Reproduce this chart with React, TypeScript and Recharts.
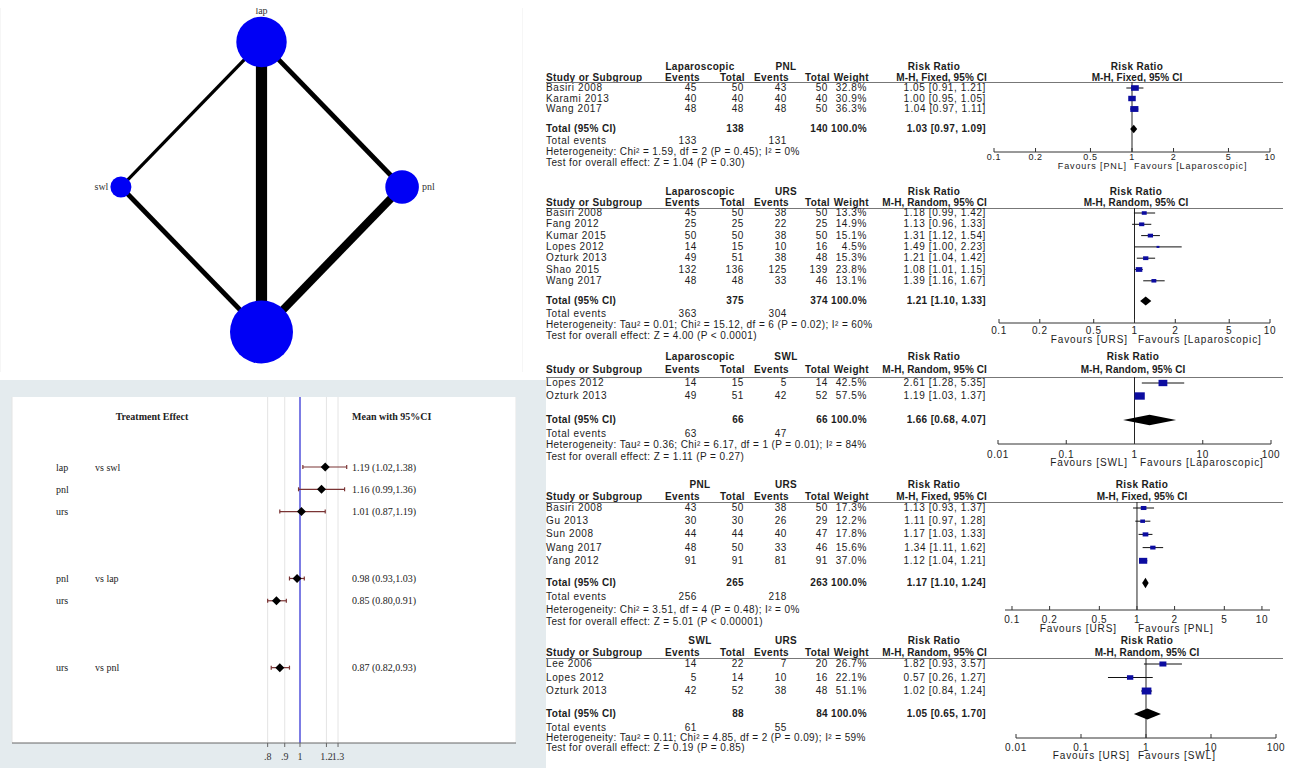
import React from "react";
import { ScatterChart, Scatter, XAxis, YAxis, CartesianGrid, ReferenceLine, ErrorBar } from "recharts";

const SANS = "'Liberation Sans', Arial, sans-serif";
const SERIF = "'Liberation Serif', 'Times New Roman', serif";

// network of comparisons (studies per direct comparison)
const treatments = ["lap", "pnl", "urs", "swl"];
const edgeFrom = ["lap", "lap", "lap", "swl", "pnl"];
const edgeTo = ["swl", "pnl", "urs", "urs", "urs"];
const edgeStudies = [2, 3, 7, 3, 5];

// network meta-analysis estimates
const nmaTreat = ["lap", "pnl", "urs", "pnl", "urs", "urs"];
const nmaRef = ["swl", "swl", "swl", "lap", "lap", "pnl"];
const nmaMean = [1.19, 1.16, 1.01, 0.98, 0.85, 0.87];
const nmaLow = [1.02, 0.99, 0.87, 0.93, 0.8, 0.82];
const nmaHigh = [1.38, 1.36, 1.19, 1.03, 0.91, 0.93];
const nmaTicks = [0.8, 0.9, 1, 1.2, 1.3];

// pairwise meta-analyses
const lapVsPnl = [
  { study: "Basiri 2008", e1: 45, n1: 50, e2: 43, n2: 50, w: 32.8, rr: 1.05, lo: 0.91, hi: 1.21 },
  { study: "Karami 2013", e1: 40, n1: 40, e2: 40, n2: 40, w: 30.9, rr: 1.0, lo: 0.95, hi: 1.05 },
  { study: "Wang 2017", e1: 48, n1: 48, e2: 48, n2: 50, w: 36.3, rr: 1.04, lo: 0.97, hi: 1.11 },
];
const lapVsUrs = [
  { study: "Basiri 2008", e1: 45, n1: 50, e2: 38, n2: 50, w: 13.3, rr: 1.18, lo: 0.99, hi: 1.42 },
  { study: "Fang 2012", e1: 25, n1: 25, e2: 22, n2: 25, w: 14.9, rr: 1.13, lo: 0.96, hi: 1.33 },
  { study: "Kumar 2015", e1: 50, n1: 50, e2: 38, n2: 50, w: 15.1, rr: 1.31, lo: 1.12, hi: 1.54 },
  { study: "Lopes 2012", e1: 14, n1: 15, e2: 10, n2: 16, w: 4.5, rr: 1.49, lo: 1.0, hi: 2.23 },
  { study: "Ozturk 2013", e1: 49, n1: 51, e2: 38, n2: 48, w: 15.3, rr: 1.21, lo: 1.04, hi: 1.42 },
  { study: "Shao 2015", e1: 132, n1: 136, e2: 125, n2: 139, w: 23.8, rr: 1.08, lo: 1.01, hi: 1.15 },
  { study: "Wang 2017", e1: 48, n1: 48, e2: 33, n2: 46, w: 13.1, rr: 1.39, lo: 1.16, hi: 1.67 },
];
const lapVsSwl = [
  { study: "Lopes 2012", e1: 14, n1: 15, e2: 5, n2: 14, w: 42.5, rr: 2.61, lo: 1.28, hi: 5.35 },
  { study: "Ozturk 2013", e1: 49, n1: 51, e2: 42, n2: 52, w: 57.5, rr: 1.19, lo: 1.03, hi: 1.37 },
];
const pnlVsUrs = [
  { study: "Basiri 2008", e1: 43, n1: 50, e2: 38, n2: 50, w: 17.3, rr: 1.13, lo: 0.93, hi: 1.37 },
  { study: "Gu 2013", e1: 30, n1: 30, e2: 26, n2: 29, w: 12.2, rr: 1.11, lo: 0.97, hi: 1.28 },
  { study: "Sun 2008", e1: 44, n1: 44, e2: 40, n2: 47, w: 17.8, rr: 1.17, lo: 1.03, hi: 1.33 },
  { study: "Wang 2017", e1: 48, n1: 50, e2: 33, n2: 46, w: 15.6, rr: 1.34, lo: 1.11, hi: 1.62 },
  { study: "Yang 2012", e1: 91, n1: 91, e2: 81, n2: 91, w: 37.0, rr: 1.12, lo: 1.04, hi: 1.21 },
];
const swlVsUrs = [
  { study: "Lee 2006", e1: 14, n1: 22, e2: 7, n2: 20, w: 26.7, rr: 1.82, lo: 0.93, hi: 3.57 },
  { study: "Lopes 2012", e1: 5, n1: 14, e2: 10, n2: 16, w: 22.1, rr: 0.57, lo: 0.26, hi: 1.27 },
  { study: "Ozturk 2013", e1: 42, n1: 52, e2: 38, n2: 48, w: 51.1, rr: 1.02, lo: 0.84, hi: 1.24 },
];
const pairStudies = [lapVsPnl, lapVsUrs, lapVsSwl, pnlVsUrs, swlVsUrs];
const pairTotals = [
  { n1: 138, n2: 140, e1: 133, e2: 131, rr: 1.03, lo: 0.97, hi: 1.09 },
  { n1: 375, n2: 374, e1: 363, e2: 304, rr: 1.21, lo: 1.1, hi: 1.33 },
  { n1: 66, n2: 66, e1: 63, e2: 47, rr: 1.66, lo: 0.68, hi: 4.07 },
  { n1: 265, n2: 263, e1: 256, e2: 218, rr: 1.17, lo: 1.1, hi: 1.24 },
  { n1: 88, n2: 84, e1: 61, e2: 55, rr: 1.05, lo: 0.65, hi: 1.7 },
];
const groupA = ["Laparoscopic", "Laparoscopic", "Laparoscopic", "PNL", "SWL"];
const groupB = ["PNL", "URS", "SWL", "URS", "URS"];
const methods = ["M-H, Fixed, 95% CI", "M-H, Random, 95% CI", "M-H, Random, 95% CI", "M-H, Fixed, 95% CI", "M-H, Random, 95% CI"];
const hetTexts = [
  "Heterogeneity: Chi² = 1.59, df = 2 (P = 0.45); I² = 0%",
  "Heterogeneity: Tau² = 0.01; Chi² = 15.12, df = 6 (P = 0.02); I² = 60%",
  "Heterogeneity: Tau² = 0.36; Chi² = 6.17, df = 1 (P = 0.01); I² = 84%",
  "Heterogeneity: Chi² = 3.51, df = 4 (P = 0.48); I² = 0%",
  "Heterogeneity: Tau² = 0.11; Chi² = 4.85, df = 2 (P = 0.09); I² = 59%",
];
const testTexts = [
  "Test for overall effect: Z = 1.04 (P = 0.30)",
  "Test for overall effect: Z = 4.00 (P < 0.0001)",
  "Test for overall effect: Z = 1.11 (P = 0.27)",
  "Test for overall effect: Z = 5.01 (P < 0.00001)",
  "Test for overall effect: Z = 0.19 (P = 0.85)",
];
const pairTicks = [
  [0.1, 0.2, 0.5, 1, 2, 5, 10],
  [0.1, 0.2, 0.5, 1, 2, 5, 10],
  [0.01, 0.1, 1, 10, 100],
  [0.1, 0.2, 0.5, 1, 2, 5, 10],
  [0.01, 0.1, 1, 10, 100],
];

// page layout of each pairwise panel (pixels)
const pairLayout = [
  { h1: 67, h2: 78, line: 82, rowTop: 88, rowH: 10.5, total: 129, events: 141, het: 152, test: 163, axis: 152, x0: 994, x1: 1270, dom: [0.1, 10], tickDy: 5, tickFs: 9, fav: 166, favL: 1127, favR: 1134, head: 1137 },
  { h1: 192, h2: 203, line: 208, rowTop: 213, rowH: 11.3, total: 301, events: 314, het: 325, test: 336, axis: 323, x0: 999, x1: 1270, dom: [0.1, 10], tickDy: 7, tickFs: 10, fav: 340, favL: 1128, favR: 1138, head: 1136 },
  { h1: 357, h2: 370, line: 377, rowTop: 383, rowH: 13, total: 420, events: 434, het: 445, test: 457, axis: 444, x0: 998, x1: 1271, dom: [0.01, 100], tickDy: 10, tickFs: 10, fav: 463, favL: 1128, favR: 1140, head: 1133 },
  { h1: 485, h2: 497, line: 502, rowTop: 508, rowH: 13.2, total: 583, events: 597, het: 610, test: 622, axis: 610, x0: 1005, x1: 1270, dom: [0.0879, 11.6], tickDy: 9, tickFs: 10, fav: 629, favL: 1117, favR: 1138, head: 1142 },
  { h1: 641, h2: 653, line: 658, rowTop: 664, rowH: 13.5, total: 714, events: 728, het: 738, test: 748, axis: 738, x0: 1016, x1: 1276, dom: [0.01, 100], tickDy: 9, tickFs: 10, fav: 756, favL: 1130, favR: 1138, head: 1147 },
];

const Txt = ({ x, y, text, anchor = "start", bold = false, size = 10, ls, font = SANS, color = "#1c1c1c" }: any) => {
  const w = 420;
  const left = anchor === "start" ? x : anchor === "end" ? x - w : x - w / 2;
  const spacing = ls ?? (bold ? 0.35 : 0.6);
  return (
    <div
      style={{
        position: "absolute", left, top: y - 8, width: w, height: 16, lineHeight: "16px",
        fontSize: size, fontFamily: font, fontWeight: bold ? 700 : 400, letterSpacing: spacing, color,
        textAlign: anchor === "start" ? "left" : anchor === "end" ? "right" : "center", whiteSpace: "nowrap",
      }}
    >
      {text}
    </div>
  );
};

function NetworkPlot() {
  const pos = (t: string) => {
    const a = (treatments.indexOf(t) * Math.PI) / 2;
    return { x: Math.round(Math.sin(a) * 1000) / 1000, y: Math.round(Math.cos(a) * 1000) / 1000 };
  };
  const nodes = treatments.map((t) => {
    let n = 0;
    edgeFrom.forEach((f, i) => {
      if (f === t || edgeTo[i] === t) n += edgeStudies[i];
    });
    return { ...pos(t), name: t, n };
  });
  const NodeShape = (p: any) => {
    const r = 2.1 * p.payload.n;
    const { x, y, name } = p.payload;
    let tx = p.cx, ty = p.cy, anchor: any = "middle";
    if (y > 0) ty = p.cy - r - 6;
    else if (y < 0) ty = p.cy + r + 11;
    else if (x < 0) { tx = p.cx - r - 2; anchor = "end"; }
    else { tx = p.cx + r + 3; anchor = "start"; }
    return (
      <g>
        <circle cx={p.cx} cy={p.cy} r={r} fill="#0000f5" />
        <text x={tx} y={ty} textAnchor={anchor} dominantBaseline="central" fontSize={10} fontFamily={SERIF} fill="#333">{name}</text>
      </g>
    );
  };
  return (
    <div style={{ position: "absolute", left: 0, top: 0 }}>
      <ScatterChart width={523} height={384} margin={{ top: 8, right: 0, bottom: 12, left: 0 }}>
        <CartesianGrid horizontal={false} stroke="#ededed" />
        <XAxis type="number" dataKey="x" domain={[-1.86, 1.86]} ticks={[-1, -0.5, 0, 0.5, 1]} tick={false} axisLine={false} tickLine={false} height={0} allowDataOverflow />
        <YAxis type="number" dataKey="y" domain={[-1.276, 1.234]} hide allowDataOverflow />
        {edgeFrom.map((f, i) => (
          <Scatter key={f + edgeTo[i]} data={[pos(f), pos(edgeTo[i])]} line={{ stroke: "#000", strokeWidth: 1.6 * edgeStudies[i] }} shape={() => <g />} isAnimationActive={false} />
        ))}
        <Scatter data={nodes} shape={NodeShape} isAnimationActive={false} />
      </ScatterChart>
    </div>
  );
}

function NmaForest() {
  const rows: any[] = [];
  let idx = 0;
  nmaTreat.forEach((t, i) => {
    const newGroup = i === 0 || nmaRef[i] !== nmaRef[i - 1];
    if (i > 0) idx += newGroup ? 3 : 1;
    rows.push({
      x: nmaMean[i], y: idx, err: [nmaMean[i] - nmaLow[i], nmaHigh[i] - nmaMean[i]],
      label: t, vs: newGroup ? "vs " + nmaRef[i] : "",
      text: `${nmaMean[i].toFixed(2)} (${nmaLow[i].toFixed(2)},${nmaHigh[i].toFixed(2)})`,
    });
  });
  const headerRow = -2.25;
  const RowTick = (p: any) => {
    const v = p.payload.value;
    const st = { fontSize: 10, fontFamily: SERIF, fill: "#222" };
    if (v === headerRow) {
      return (
        <g>
          <text x={141} y={p.y} textAnchor="middle" dominantBaseline="central" fontWeight={700} {...st}>Treatment Effect</text>
          <text x={341} y={p.y} textAnchor="start" dominantBaseline="central" fontWeight={700} {...st}>Mean with 95%CI</text>
        </g>
      );
    }
    const r = rows.find((q) => q.y === v);
    if (!r) return <g />;
    return (
      <g>
        <text x={45} y={p.y} dominantBaseline="central" {...st}>{r.label}</text>
        <text x={84} y={p.y} dominantBaseline="central" {...st}>{r.vs}</text>
        <text x={341} y={p.y} dominantBaseline="central" {...st}>{r.text}</text>
      </g>
    );
  };
  const Mark = (p: any) => (
    <polygon points={`${p.cx - 4.5},${p.cy} ${p.cx},${p.cy - 4.5} ${p.cx + 4.5},${p.cy} ${p.cx},${p.cy + 4.5}`} fill="#000" />
  );
  return (
    <div style={{ position: "absolute", left: 11, top: 397 }}>
      <ScatterChart width={505} height={371} margin={{ top: 0, right: 0, bottom: 0, left: 0 }}>
        <CartesianGrid horizontal={false} stroke="#e4e4e4" fill="#fff" />
        <XAxis
          type="number" dataKey="x" scale="log" domain={[0.1372, 4.436]} allowDataOverflow ticks={nmaTicks} interval={0}
          tickFormatter={(v: number) => String(v).replace(/^0/, "")} height={25}
          axisLine={{ stroke: "#666" }} tickLine={{ stroke: "#666" }} tickSize={4} tickMargin={6}
          tick={{ fontSize: 10, fontFamily: SERIF, fill: "#333" }}
        />
        <YAxis
          type="number" dataKey="y" domain={[-3.14, 12.38]} reversed width={1} allowDataOverflow
          ticks={[headerRow, ...rows.map((r) => r.y)]} interval={0} axisLine={false} tickLine={false} tick={RowTick}
        />
        <ReferenceLine x={1} stroke="#7c7ce4" strokeWidth={2} />
        <Scatter data={rows} shape={Mark} isAnimationActive={false}>
          <ErrorBar dataKey="err" direction="x" width={2} stroke="#7a3434" strokeWidth={1.2} isAnimationActive={false} />
        </Scatter>
      </ScatterChart>
    </div>
  );
}

const col = { e1: 697, n1: 744, e2: 787, n2: 828, w: 867, rr: 986 };
const hcol = { e1: 700, n1: 745, e2: 789, n2: 830, w: 869, rr: 987 };

function PairPanel({ k }: { k: number }) {
  const L = pairLayout[k];
  const studies = pairStudies[k];
  const t = pairTotals[k];
  const toRow = (py: number) => (py - L.rowTop) / L.rowH;
  const pts = studies.map((s, i) => ({ x: s.rr, y: i, err: [s.rr - s.lo, s.hi - s.rr], w: s.w }));
  const tRow = toRow(L.total);
  const half = 0.4;
  const diamond = [
    { x: t.lo, y: tRow }, { x: t.rr, y: tRow - half }, { x: t.hi, y: tRow }, { x: t.rr, y: tRow + half },
  ];
  const pad = 16;
  const ci = (r: number, lo: number, hi: number) => `${r.toFixed(2)} [${lo.toFixed(2)}, ${hi.toFixed(2)}]`;
  const Box = (p: any) => {
    const bw = 1.35 * Math.sqrt(p.payload.w);
    const bh = 0.72 * bw;
    return <rect x={p.cx - bw / 2} y={p.cy - bh / 2} width={bw} height={bh} fill="#0c0ca0" />;
  };
  const AxisTick = (p: any) => (
    <g>
      <line x1={p.x} x2={p.x} y1={p.y} y2={p.y - 4} stroke="#333" />
      <text x={p.x} y={p.y + L.tickDy} textAnchor="middle" dominantBaseline="central" fontSize={L.tickFs} fontFamily={SANS} letterSpacing={0.6} fill="#222">
        {String(p.payload.value)}
      </text>
    </g>
  );
  return (
    <>
      <Txt x={700} y={L.h1} text={groupA[k]} anchor="middle" bold />
      <Txt x={786} y={L.h1} text={groupB[k]} anchor="middle" bold />
      <Txt x={934} y={L.h1} text="Risk Ratio" anchor="middle" bold />
      <Txt x={L.head} y={L.h1} text="Risk Ratio" anchor="middle" bold />
      <Txt x={546} y={L.h2} text="Study or Subgroup" bold />
      <Txt x={hcol.e1} y={L.h2} text="Events" anchor="end" bold />
      <Txt x={hcol.n1} y={L.h2} text="Total" anchor="end" bold />
      <Txt x={hcol.e2} y={L.h2} text="Events" anchor="end" bold />
      <Txt x={hcol.n2} y={L.h2} text="Total" anchor="end" bold />
      <Txt x={hcol.w} y={L.h2} text="Weight" anchor="end" bold />
      <Txt x={hcol.rr} y={L.h2} text={methods[k]} anchor="end" bold ls={0.1} />
      <Txt x={L.head} y={L.h2} text={methods[k]} anchor="middle" bold ls={0.1} />
      <div style={{ position: "absolute", left: 546, top: L.line, width: 737, height: 1, background: "#777" }} />
      {studies.map((s, i) => {
        const y = L.rowTop + i * L.rowH;
        return (
          <React.Fragment key={s.study}>
            <Txt x={546} y={y} text={s.study} />
            <Txt x={col.e1} y={y} text={s.e1} anchor="end" />
            <Txt x={col.n1} y={y} text={s.n1} anchor="end" />
            <Txt x={col.e2} y={y} text={s.e2} anchor="end" />
            <Txt x={col.n2} y={y} text={s.n2} anchor="end" />
            <Txt x={col.w} y={y} text={s.w.toFixed(1) + "%"} anchor="end" />
            <Txt x={col.rr} y={y} text={ci(s.rr, s.lo, s.hi)} anchor="end" />
          </React.Fragment>
        );
      })}
      <Txt x={546} y={L.total} text="Total (95% CI)" bold />
      <Txt x={col.n1} y={L.total} text={t.n1} anchor="end" bold />
      <Txt x={col.n2} y={L.total} text={t.n2} anchor="end" bold />
      <Txt x={col.w} y={L.total} text="100.0%" anchor="end" bold />
      <Txt x={col.rr} y={L.total} text={ci(t.rr, t.lo, t.hi)} anchor="end" bold />
      <Txt x={546} y={L.events} text="Total events" />
      <Txt x={col.e1} y={L.events} text={t.e1} anchor="end" />
      <Txt x={col.e2} y={L.events} text={t.e2} anchor="end" />
      <Txt x={546} y={L.het} text={hetTexts[k]} ls={0.4} />
      <Txt x={546} y={L.test} text={testTexts[k]} ls={0.4} />
      <Txt x={L.favL} y={L.fav} text={`Favours [${groupB[k]}]`} anchor="end" ls={0.9} size={L.tickFs} />
      <Txt x={L.favR} y={L.fav} text={`Favours [${groupA[k]}]`} ls={0.9} size={L.tickFs} />
      <div style={{ position: "absolute", left: L.x0 - pad, top: L.line }}>
        <ScatterChart width={L.x1 - L.x0 + 2 * pad} height={L.axis - L.line + 16} margin={{ top: 0, right: pad, bottom: 0, left: pad }}>
          <XAxis
            type="number" dataKey="x" scale="log" domain={L.dom} allowDataOverflow ticks={pairTicks[k]} interval={0}
            height={16} tickSize={0} tickMargin={0} tickLine={false} axisLine={{ stroke: "#333" }} tick={AxisTick}
          />
          <YAxis type="number" dataKey="y" domain={[toRow(L.line), toRow(L.axis)]} reversed hide allowDataOverflow />
          <ReferenceLine x={1} stroke="#222" />
          <Scatter data={pts} shape={Box} isAnimationActive={false}>
            <ErrorBar dataKey="err" direction="x" width={0} stroke="#111" strokeWidth={1} isAnimationActive={false} />
          </Scatter>
          <Scatter
            data={diamond}
            shape={() => <g />}
            line={(lp: any) => <polygon points={lp.points.map((q: any) => `${q.x},${q.y}`).join(" ")} fill="#000" />}
            isAnimationActive={false}
          />
        </ScatterChart>
      </div>
    </>
  );
}

export default function App() {
  return (
    <div style={{ position: "absolute", left: 0, top: 0, width: 1290, height: 768, overflow: "hidden", background: "#fff" }}>
      <div style={{ position: "absolute", left: 0, top: 380, width: 546, height: 388, background: "#e4ebee" }} />
      <NetworkPlot />
      <NmaForest />
      {pairStudies.map((_, k) => (
        <PairPanel key={k} k={k} />
      ))}
    </div>
  );
}
